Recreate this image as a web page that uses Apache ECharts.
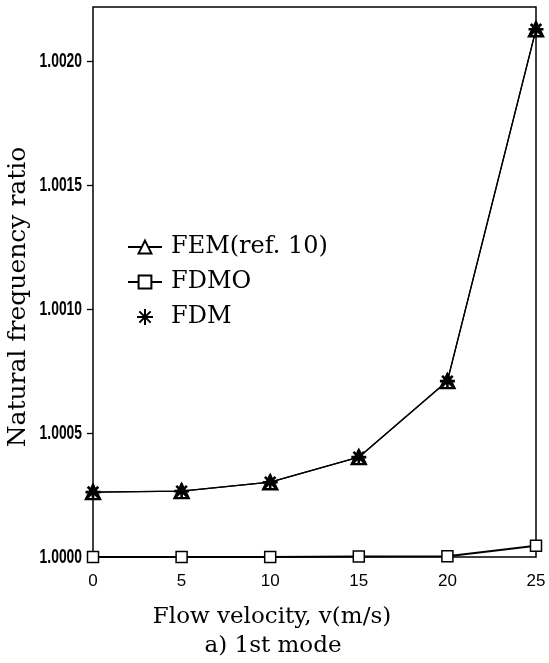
<!DOCTYPE html>
<html>
<head>
<meta charset="utf-8">
<script src="https://cdn.jsdelivr.net/npm/echarts@6/dist/echarts.min.js"></script>
<style>
  html, body { margin: 0; padding: 0; background: #fff; }
  #chart { width: 549px; height: 663px; }
</style>
</head>
<body>
<div id="chart"></div>
<script>
// Flow velocity (m/s)
const velocities = [0, 5, 10, 15, 20, 25];
// Natural frequency ratio, 1st mode
const femValues  = [1.000262, 1.000266, 1.000302, 1.000403, 1.000710, 1.002130];
const fdmValues  = [1.000262, 1.000266, 1.000302, 1.000403, 1.000710, 1.002130];
const fdmoValues = [1.000000, 1.000000, 1.000000, 1.000002, 1.000003, 1.000045];
const xTicks = ['0', '5', '10', '15', '20', '25'];
const yTickValues = [1.0000, 1.0005, 1.0010, 1.0015, 1.0020];
const yTickLabels = ['1.0000', '1.0005', '1.0010', '1.0015', '1.0020'];
const yTickStep = 0.0005;

const serif = '"DejaVu Serif", "Liberation Serif", serif';
const pairs = (ys) => velocities.map((v, i) => [v, ys[i]]);

// eight-armed star drawn as strokes
const asterisk = 'path://M0,-10L0,10M-10,0L10,0M-7.07,-7.07L7.07,7.07M-7.07,7.07L7.07,-7.07';

const chart = echarts.init(document.getElementById('chart'), null, { renderer: 'canvas' });

function textItem(text, x, y, font, rotation) {
  return {
    type: 'text', x, y, rotation: rotation || 0,
    style: {
      text, font, fill: '#000',
      align: 'center', verticalAlign: 'middle',
      textAlign: 'center', textVerticalAlign: 'middle'
    }
  };
}

chart.setOption({
  animation: false,
  backgroundColor: '#fff',
  grid: {
    left: 93, right: 13, top: 7, bottom: 106,
    show: true, borderColor: '#000', borderWidth: 1.5,
    containLabel: false
  },
  xAxis: {
    type: 'value',
    min: 0, max: 25, interval: 5,
    axisLine: { show: false },
    axisTick: { show: false },
    splitLine: { show: false },
    axisLabel: {
      margin: 16,
      color: '#000',
      fontFamily: '"Liberation Sans", Arial, sans-serif',
      fontSize: 17,
      formatter: (v) => xTicks[velocities.indexOf(v)] ?? ''
    }
  },
  yAxis: {
    type: 'value',
    min: 1.0, max: 1.00222, interval: yTickStep,
    axisLine: { show: false },
    axisTick: {
      show: true, inside: false, length: 6,
      customValues: yTickValues,
      lineStyle: { color: '#000', width: 1.3 }
    },
    splitLine: { show: false },
    axisLabel: { show: false }
  },
  legend: {
    orient: 'vertical',
    left: 122, top: 230,
    itemWidth: 34, itemHeight: 16, itemGap: 11,
    textStyle: { color: '#000', fontFamily: serif, fontSize: 24, padding: [0, 0, 0, 4] },
    data: [
      { name: 'FEM(ref. 10)' },
      { name: 'FDMO' },
      { name: 'FDM', icon: asterisk }
    ]
  },
  series: [
    {
      name: 'FEM(ref. 10)',
      type: 'line',
      data: pairs(femValues),
      clip: false,
      symbol: 'triangle', symbolSize: 14,
      lineStyle: { color: '#000', width: 1.3 },
      itemStyle: { color: '#fff', borderColor: '#000', borderWidth: 2.4 },
      z: 3
    },
    {
      name: 'FDMO',
      type: 'line',
      data: pairs(fdmoValues),
      clip: false,
      symbol: 'rect', symbolSize: 11,
      lineStyle: { color: '#000', width: 2 },
      itemStyle: { color: '#fff', borderColor: '#000', borderWidth: 1.5 },
      z: 3
    },
    {
      name: 'FDM',
      type: 'line',
      data: pairs(fdmValues),
      clip: false,
      symbol: asterisk, symbolSize: 15,
      lineStyle: { color: '#000', width: 1.3 },
      itemStyle: { color: '#000', borderColor: '#000', borderWidth: 2.6 },
      z: 4
    }
  ]
});

// Condensed y tick labels, placed on the axis scale
const yLabelGraphics = yTickValues.map((v, i) => ({
  type: 'text',
  x: 82,
  y: chart.convertToPixel({ yAxisIndex: 0 }, v),
  scaleX: 0.66,
  style: {
    text: yTickLabels[i],
    font: 'bold 21px "Liberation Sans", Arial, sans-serif',
    fill: '#000',
    align: 'right', verticalAlign: 'middle',
    textAlign: 'right', textVerticalAlign: 'middle'
  }
}));

chart.setOption({
  graphic: [
    textItem('Natural frequency ratio', 18, 297, '25px ' + serif, Math.PI / 2),
    textItem('Flow velocity, v(m/s)', 272, 617, '23px ' + serif),
    textItem('a) 1st mode', 273, 646, '23px ' + serif),
    ...yLabelGraphics
  ]
});
</script>
</body>
</html>
